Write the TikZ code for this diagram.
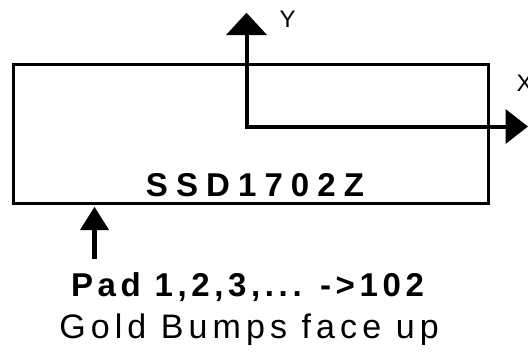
\documentclass[tikz,border=0pt]{standalone}
\usepackage{fontspec}
\setmainfont{Liberation Sans}
\usetikzlibrary{arrows.meta}
\tikzset{
  lbl/.style={inner sep=0pt, anchor=base, font=#1},
  chip/.style={draw, line width=3bp},
  axis/.style={line width=4bp},
  padarrow/.style={line width=5bp, -{Triangle[width=27.6bp,length=23.3bp]}}
}
\begin{document}
\begin{tikzpicture}[x=1bp,y=-1bp]
\useasboundingbox (0,0) rectangle (528,352);
% chip outline
\node[chip, minimum width=474bp, minimum height=139.5bp, inner sep=0pt] (box) at (251,133.75) {};
\node[lbl={\fontsize{33bp}{33bp}\bfseries\addfontfeature{LetterSpace=24.5}}] (name) at (255,196) {SSD1702Z};
% axes
\coordinate (O) at (246.5,126.5);
\coordinate (Ytip) at (246.5,12.7);
\coordinate (Xtip) at (528,126.5);
\draw[axis, {Triangle[width=40bp,length=22.3bp]}-{Triangle[width=34bp,length=22.5bp]}] (Ytip) -- (O) -- (Xtip);
\node[lbl={\fontsize{24bp}{24bp}\selectfont}] (ylab) at (287.5,27) {Y};
\node[lbl={\fontsize{24bp}{24bp}\selectfont}] (xlab) at (524.5,91) {X};
% pad arrow
\coordinate (padtail) at (94.5,259);
\coordinate (padtip) at (94.5,206.7);
\draw[padarrow] (padtail) -- (padtip);
\node[lbl={\fontsize{33bp}{33bp}\bfseries\addfontfeature{LetterSpace=14}}] (pad) at (247.5,296) {Pad 1,2,3,... ->102};
\node[lbl={\fontsize{34bp}{34bp}\addfontfeature{LetterSpace=15}}] (gold) at (249,338) {Gold Bumps face up};
\end{tikzpicture}
\end{document}
